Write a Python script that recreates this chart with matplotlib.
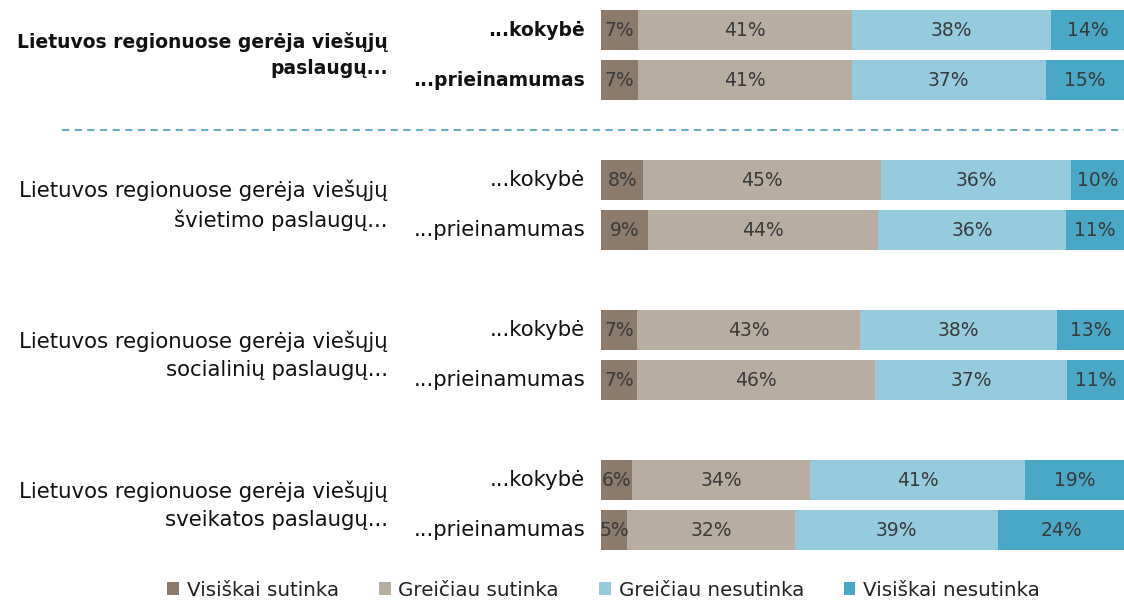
import matplotlib
matplotlib.use("Agg")
import matplotlib.pyplot as plt
import matplotlib.transforms as mtransforms
import numpy as np

plt.rcParams['font.family'] = ['DejaVu Sans']

groups = [
    "Lietuvos regionuose gerėja viešųjų\npaslaugų...",
    "Lietuvos regionuose gerėja viešųjų\nšvietimo paslaugų...",
    "Lietuvos regionuose gerėja viešųjų\nsocialinių paslaugų...",
    "Lietuvos regionuose gerėja viešųjų\nsveikatos paslaugų...",
]
subs = ["...kokybė", "...prieinamumas"]
series = ["Visiškai sutinka", "Greičiau sutinka", "Greičiau nesutinka", "Visiškai nesutinka"]
colors = ["#8c7b6a", "#b8ada1", "#95cbdd", "#48a8c6"]

visiskai_sutinka   = [7, 7, 8, 9, 7, 7, 6, 5]
greiciau_sutinka   = [41, 41, 45, 44, 43, 46, 34, 32]
greiciau_nesutinka = [38, 37, 36, 36, 38, 37, 41, 39]
visiskai_nesutinka = [14, 15, 10, 11, 13, 11, 19, 24]

data = np.array([visiskai_sutinka, greiciau_sutinka, greiciau_nesutinka, visiskai_nesutinka], float)
shares = data / data.sum(axis=0) * 100

fig = plt.figure(figsize=(11.24, 6.0), dpi=100)
ax = fig.add_axes([601/1124, 40/600, 1 - 601/1124, 560/600])

ypos = []
for g in range(len(groups)):
    for i in range(len(subs)):
        ypos.append(3 * g + i)
ypos = np.array(ypos, float)

left = np.zeros(len(ypos))
for k, name in enumerate(series):
    w = shares[k]
    ax.barh(ypos, w, left=left, height=0.8, color=colors[k], label=name, edgecolor='none')
    for y, l, ww, v in zip(ypos, left, w, data[k]):
        ax.text(l + ww / 2, y, f"{int(v)}%", ha='center', va='center', fontsize=13.5, color='#3a3a3a')
    left += w

ax.set_xlim(0, 100)
ax.set_ylim(10.6, -0.6)
ax.axis('off')

trans = mtransforms.blended_transform_factory(fig.transFigure, ax.transData)
for g, gl in enumerate(groups):
    bold = (g == 0)
    fs = 13.5 if bold else 15.3
    ax.text(388/1124, 3 * g + 0.5, gl, transform=trans, ha='right', va='center',
            fontsize=fs, fontweight='bold' if bold else 'normal', color='#111111',
            linespacing=1.5)
    for i, s in enumerate(subs):
        ax.text(585/1124, 3 * g + i, s, transform=trans, ha='right', va='center',
                fontsize=fs, fontweight='bold' if bold else 'normal', color='#111111')

line = plt.Line2D([62/1124, 1.0], [2, 2], transform=trans, color='#5aa6bf',
                  linestyle=(0, (4, 3)), linewidth=1.3)
fig.add_artist(line)

fig.legend(loc='center', bbox_to_anchor=(0.537, 10/600), ncol=4, frameon=False,
           fontsize=14.3, handlelength=0.6, handleheight=0.6, handletextpad=0.4, columnspacing=2.0,
           labelcolor='#222222')

fig.savefig("out.png", dpi=100)
